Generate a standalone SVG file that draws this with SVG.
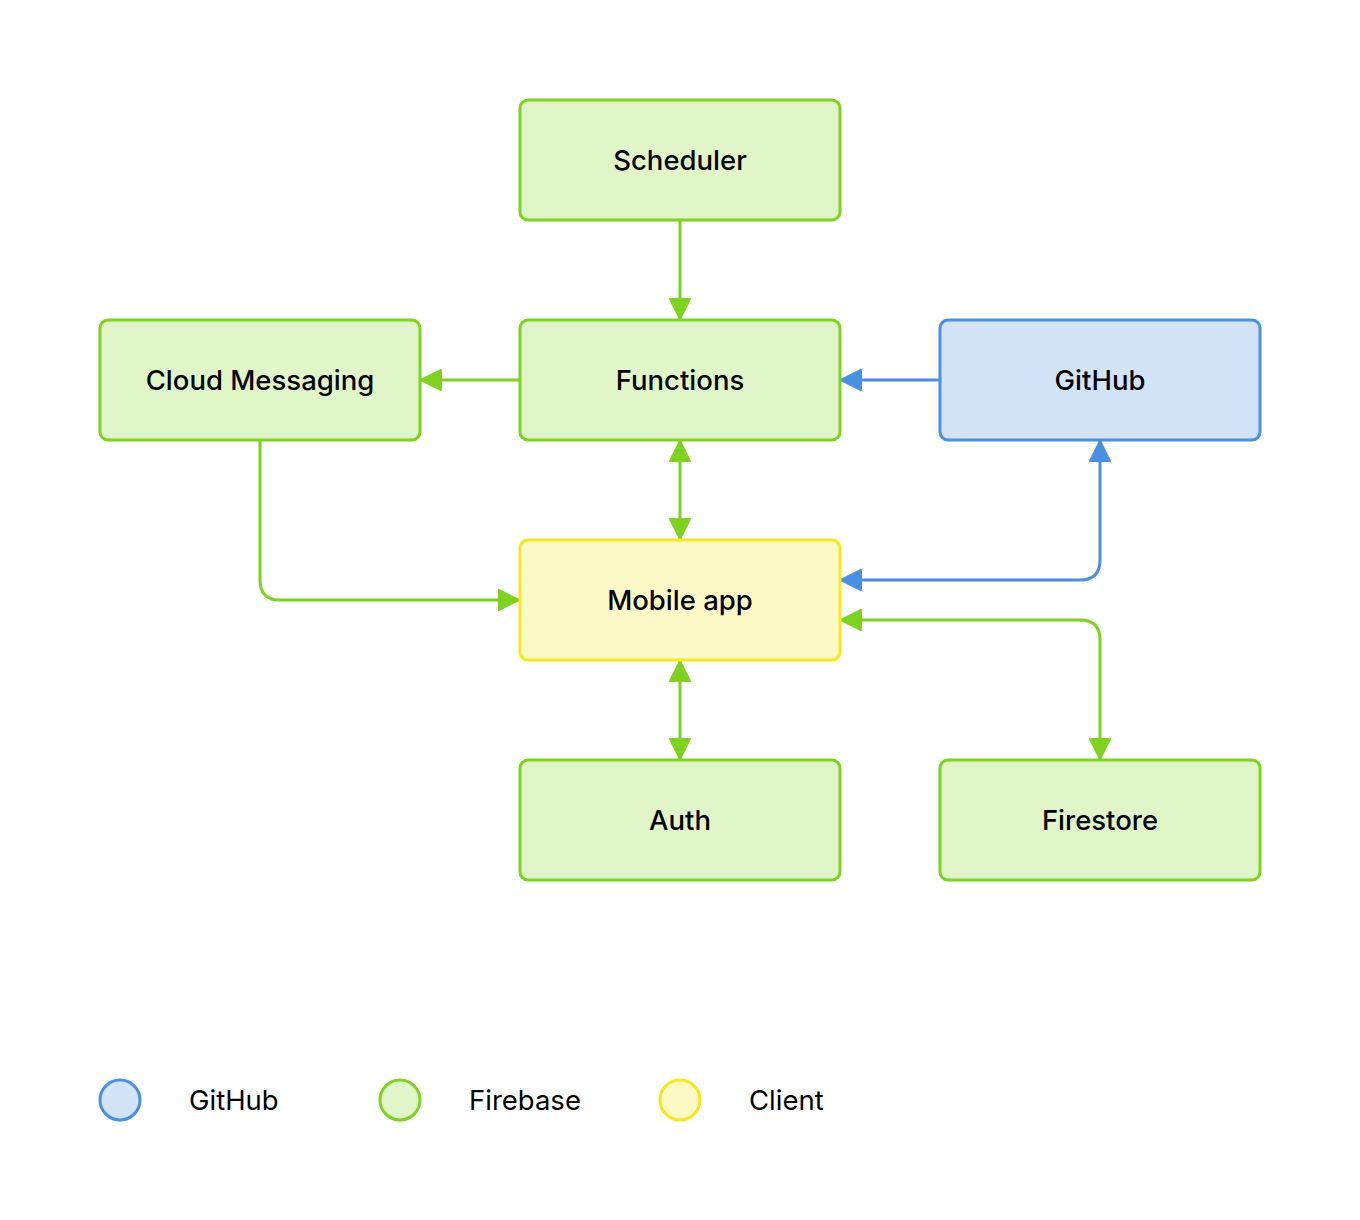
<svg xmlns="http://www.w3.org/2000/svg" width="1360" height="1220" viewBox="0 0 1360 1220">
<style>
.fb{fill:#E0F5C8;stroke:#7ED321;stroke-width:3}
.gh{fill:#D3E3F8;stroke:#4A90E2;stroke-width:3}
.cl{fill:#FCF9C6;stroke:#F8E71C;stroke-width:3}
.lbl{font-family:"Inter","Liberation Sans",sans-serif;font-size:27.5px;font-weight:500;fill:#000;text-anchor:middle;dominant-baseline:central}
.leg{font-family:"Inter","Liberation Sans",sans-serif;font-size:27.5px;fill:#000;dominant-baseline:central}
.g{fill:none;stroke:#7ED321;stroke-width:3}
.b{fill:none;stroke:#4A90E2;stroke-width:3}
</style>
<defs>
<marker id="ag" viewBox="0 0 22 24" refX="21" refY="12" markerWidth="22" markerHeight="24" markerUnits="userSpaceOnUse" orient="auto-start-reverse">
<path d="M1,2 L21,12 L1,22 Z" fill="#7ED321" stroke="#7ED321" stroke-width="2" stroke-linejoin="round"/>
</marker>
<marker id="ab" viewBox="0 0 22 24" refX="21" refY="12" markerWidth="22" markerHeight="24" markerUnits="userSpaceOnUse" orient="auto-start-reverse">
<path d="M1,2 L21,12 L1,22 Z" fill="#4A90E2" stroke="#4A90E2" stroke-width="2" stroke-linejoin="round"/>
</marker>
</defs>
<rect width="1360" height="1220" fill="#fff"/>
<g id="connectors">
<path class="g" d="M680,220 L680,319" marker-end="url(#ag)"/>
<path class="g" d="M520,380 L421,380" marker-end="url(#ag)"/>
<path class="b" d="M940,380 L841,380" marker-end="url(#ab)"/>
<path class="g" d="M680,441 L680,539" marker-start="url(#ag)" marker-end="url(#ag)"/>
<path class="g" d="M260,440 L260,580 Q260,600 280,600 L519,600" marker-end="url(#ag)"/>
<path class="b" d="M841,580 L1080,580 Q1100,580 1100,560 L1100,441" marker-start="url(#ab)" marker-end="url(#ab)"/>
<path class="g" d="M841,620 L1080,620 Q1100,620 1100,640 L1100,759" marker-start="url(#ag)" marker-end="url(#ag)"/>
<path class="g" d="M680,661 L680,759" marker-start="url(#ag)" marker-end="url(#ag)"/>
</g>
<g id="scheduler"><rect class="fb" x="520" y="100" width="320" height="120" rx="8"/><text class="lbl" x="680" y="160">Scheduler</text></g>
<g id="cloud-messaging"><rect class="fb" x="100" y="320" width="320" height="120" rx="8"/><text class="lbl" x="260" y="380">Cloud Messaging</text></g>
<g id="functions"><rect class="fb" x="520" y="320" width="320" height="120" rx="8"/><text class="lbl" x="680" y="380">Functions</text></g>
<g id="github"><rect class="gh" x="940" y="320" width="320" height="120" rx="8"/><text class="lbl" x="1100" y="380">GitHub</text></g>
<g id="mobile-app"><rect class="cl" x="520" y="540" width="320" height="120" rx="8"/><text class="lbl" x="680" y="600">Mobile app</text></g>
<g id="auth"><rect class="fb" x="520" y="760" width="320" height="120" rx="8"/><text class="lbl" x="680" y="820">Auth</text></g>
<g id="firestore"><rect class="fb" x="940" y="760" width="320" height="120" rx="8"/><text class="lbl" x="1100" y="820">Firestore</text></g>
<g id="legend">
<circle class="gh" cx="120" cy="1100" r="20"/><text class="leg" x="189" y="1100">GitHub</text>
<circle class="fb" cx="400" cy="1100" r="20"/><text class="leg" x="469" y="1100">Firebase</text>
<circle class="cl" cx="680" cy="1100" r="20"/><text class="leg" x="749" y="1100">Client</text>
</g>
</svg>
